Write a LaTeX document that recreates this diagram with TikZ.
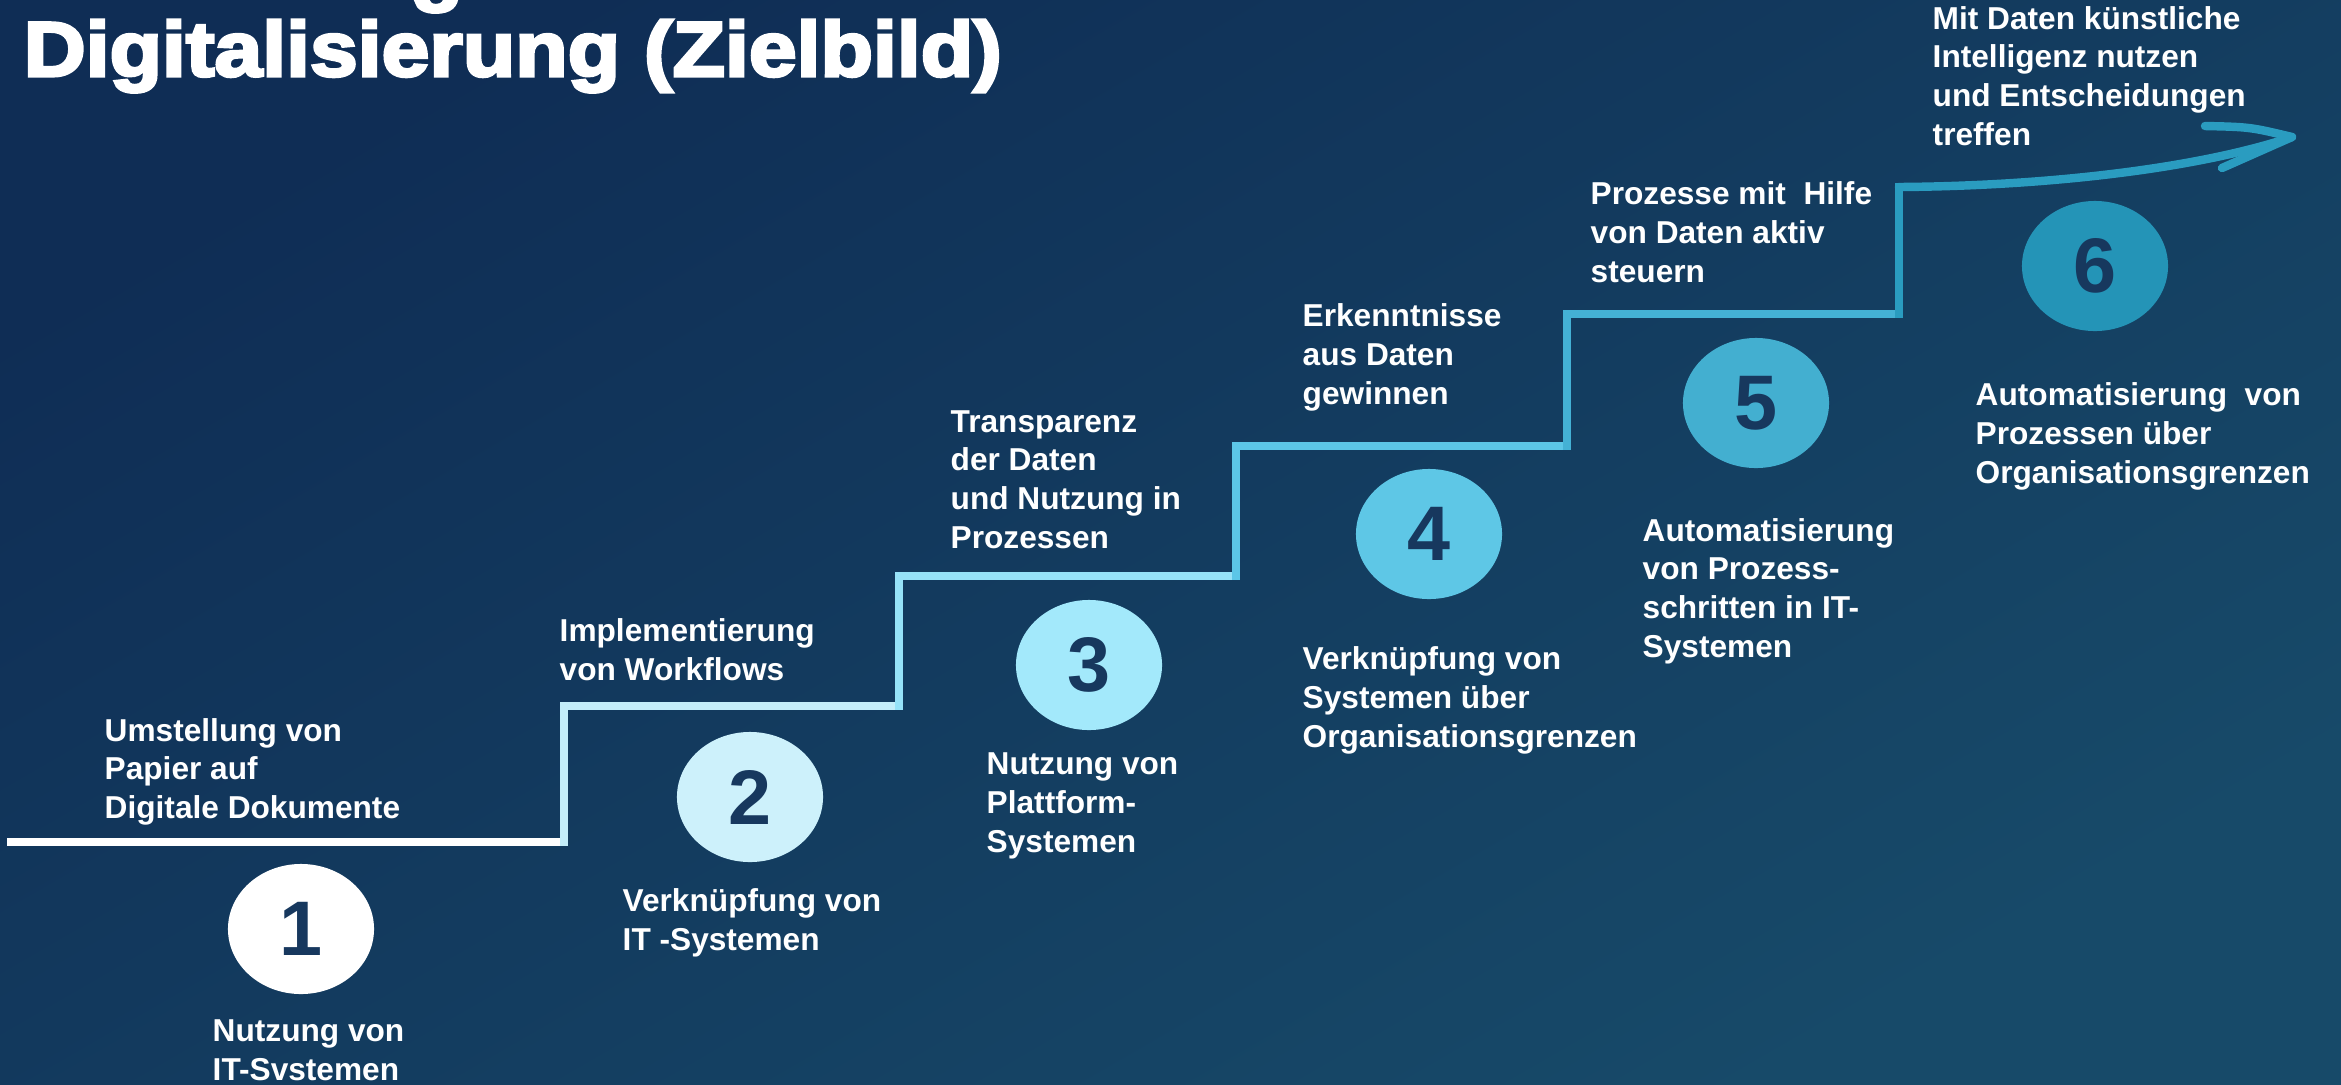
\documentclass[tikz,border=0pt]{standalone}
\usepackage{fontspec}
\setmainfont{Liberation Sans}
\newfontfamily\labelfont{Liberation Sans Bold}
\newfontfamily\titlefont{Liberation Sans Bold}[FakeBold=4,FakeStretch=1.11]
\usetikzlibrary{shapes.geometric}
\definecolor{bgtop}{HTML}{0F2D55}
\definecolor{bgbot}{HTML}{174A69}
\definecolor{numtext}{HTML}{17385E}
\definecolor{c2}{HTML}{CDF1FB}
\definecolor{c3}{HTML}{A3E9FB}
\definecolor{c4}{HTML}{5EC7E6}
\definecolor{c5}{HTML}{43AFD0}
\definecolor{c6}{HTML}{2494B7}
\definecolor{st1}{HTML}{C4EEFA}
\definecolor{st2}{HTML}{96E2F8}
\definecolor{st3}{HTML}{5CC6E7}
\definecolor{st4}{HTML}{44B1D5}
\definecolor{st5}{HTML}{2A9CC0}
\begin{document}
\begin{tikzpicture}[
        x=0.01cm, y=-0.01cm,
        stair/.style = {line width=2pt, line cap=rect, line join=miter},
        arrowline/.style = {line width=2.4pt, line cap=round, line join=round, st5},
        num/.style = {ellipse, minimum width=1.46cm, minimum height=1.30cm, inner sep=0pt,
            text=numtext, font=\labelfont\fontsize{22}{22}\selectfont},
        lbl/.style = {anchor=base west, align=left, inner sep=0pt, text=white,
            font=\labelfont\fontsize{9}{10.95}\selectfont}
    ]
    \useasboundingbox (0,0) rectangle (2341,1084);
    \shade[top color=bgtop, bottom color=bgbot, shading angle=30] (0,0) rectangle (2341,1084);
    % title (first line lies above the top edge)
    \node[anchor=base west, inner sep=0pt, text=white, font=\titlefont\fontsize{22}{22}\selectfont] (head) at (410,-4) {g};
    \node[anchor=base west, inner sep=0pt, text=white, font=\titlefont\fontsize{22}{22}\selectfont] (title) at (23,76) {Digitalisierung (Zielbild)};
    % staircase
    \draw[stair, white] (11,842) -- (564,842);
    \draw[stair, st1] (564,842) -- (564,706) -- (899,706);
    \draw[stair, st2] (899,706) -- (899,576) -- (1236,576);
    \draw[stair, st3] (1236,576) -- (1236,446) -- (1567,446);
    \draw[stair, st4] (1567,446) -- (1567,314) -- (1899,314);
    \draw[stair, st5] (1899,314) -- (1899,187);
    \draw[arrowline] (1899,187) .. controls (2050,186) and (2200,168) .. (2292,137);
    \draw[arrowline] (2205,126) .. controls (2250,127) .. (2292,137) -- (2222,168);
    % steps
    \node[num, fill=white] (c1) at (301,929) {1};
    \node[num, fill=c2] (c2n) at (750,797) {2};
    \node[num, fill=c3] (c3n) at (1089,665) {3};
    \node[num, fill=c4] (c4n) at (1429,534) {4};
    \node[num, fill=c5] (c5n) at (1756,403) {5};
    \node[num, fill=c6] (c6n) at (2095,266) {6};
    % labels (placed at the baseline of their last line)
    \node[lbl] (t1) at (104,818) {Umstellung von\\Papier auf\\Digitale Dokumente};
    \node[lbl] (b1) at (212,1080) {Nutzung von\\IT-Svstemen};
    \node[lbl] (t2) at (559,680) {Implementierung\\von Workflows};
    \node[lbl] (b2) at (622,950) {Verknüpfung von\\IT -Systemen};
    \node[lbl] (t3) at (950,548) {Transparenz\\der Daten\\und Nutzung in\\Prozessen};
    \node[lbl] (b3) at (986,852) {Nutzung von\\Plattform-\\Systemen};
    \node[lbl] (t4) at (1302,404) {Erkenntnisse\\aus Daten\\gewinnen};
    \node[lbl] (b4) at (1302,747) {Verknüpfung von\\Systemen über\\Organisationsgrenzen};
    \node[lbl] (t5) at (1590,282) {Prozesse mit\ \ Hilfe\\von Daten aktiv\\steuern};
    \node[lbl] (b5) at (1642,657) {Automatisierung\\von Prozess-\\schritten in IT-\\Systemen};
    \node[lbl] (t6) at (1932,145) {Mit Daten künstliche\\Intelligenz nutzen\\und Entscheidungen\\treffen};
    \node[lbl] (b6) at (1975,483) {Automatisierung\ \ von\\Prozessen über\\Organisationsgrenzen};
\end{tikzpicture}
\end{document}
